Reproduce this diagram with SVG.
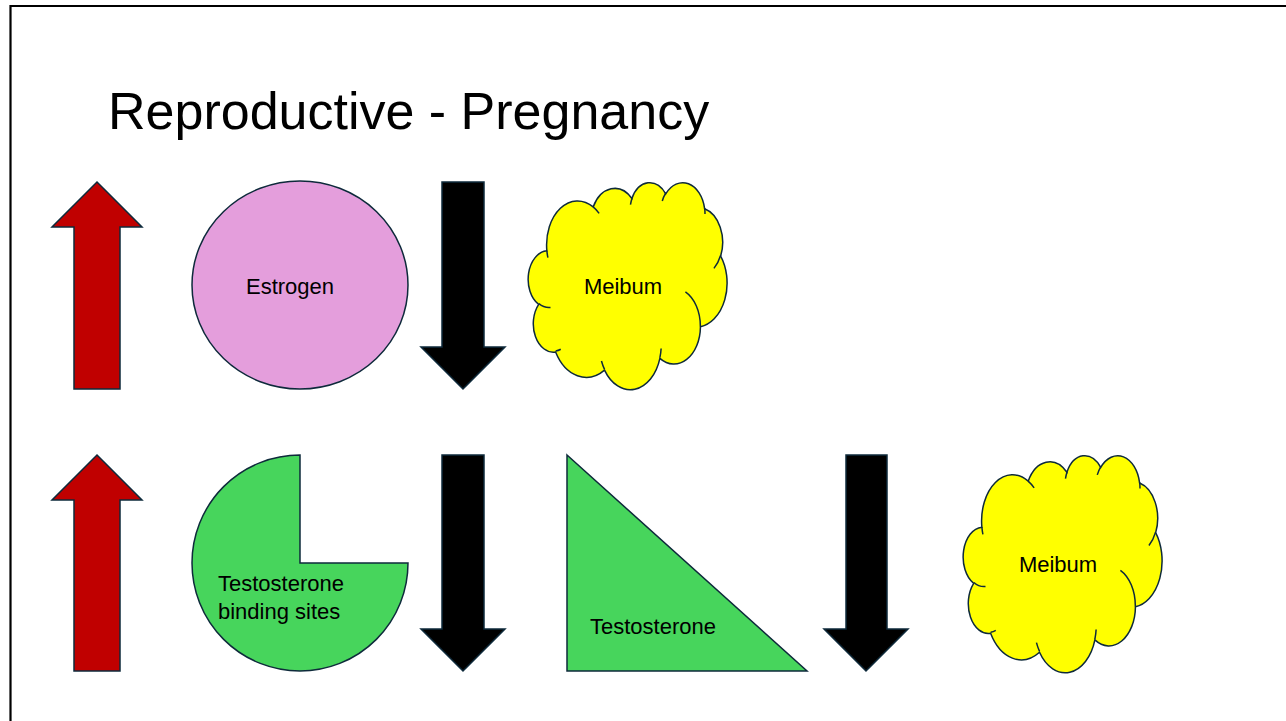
<svg xmlns="http://www.w3.org/2000/svg" xmlns:xlink="http://www.w3.org/1999/xlink" width="1286" height="721" viewBox="0 0 1286 721">
  <style>
    .outline { stroke: #0E2A3B; stroke-width: 1.5; stroke-linejoin: miter; }
    .up { fill: #C00000; }
    .down { fill: #000000; }
    .estrogen { fill: #E49EDC; }
    .green { fill: #47D55C; }
    .cloud { fill: #FFFF00; stroke: #0E2A3B; stroke-width: 1.5; vector-effect: non-scaling-stroke; }
    .cloud-inner { fill: none; stroke: #0E2A3B; stroke-width: 1.5; vector-effect: non-scaling-stroke; }
    .label { font-family: "Liberation Sans", Arial, sans-serif; font-size: 22px; fill: #000; }
    .title { font-family: "Liberation Sans", Arial, sans-serif; font-size: 52px; fill: #000; }
  </style>
  <defs>
    <!-- cloud outline in a 43200 x 43200 unit box -->
    <path id="cloud-body" class="cloud" d="M3900 14370 A6753 9190 0 0 1 14005 5202 A5333 7267 0 0 1 22456 3432 A4365 5945 0 0 1 29833 2480 A4857 6595 0 0 1 38318 5576 A5333 7273 0 0 1 41818 15459 A6775 9220 0 0 1 37404 30203 A5785 7867 0 0 1 28556 36813 A6752 9215 0 0 1 16480 39264 A7720 10543 0 0 1 5805 35470 A4360 5918 0 0 1 2113 25548 A4345 5945 0 0 1 3900 14370 Z"/>
    <!-- inner puff creases -->
    <path id="cloud-creases" class="cloud-inner" d="M4693 26177 A4345 5945 0 0 1 2160 25380 M6928 34899 A4360 5918 0 0 1 5820 35280 M16478 39090 A6752 9215 0 0 1 15810 37350 M28827 34751 A6752 9215 0 0 1 28560 36660 M34129 22954 A5785 7867 0 0 1 37380 30090 M41798 15354 A5333 7273 0 0 1 40350 18030 M38324 5426 A4857 6595 0 0 1 38400 6690 M29078 3952 A4857 6595 0 0 1 29820 2340 M22141 4720 A4365 5945 0 0 1 22500 3330 M14000 5192 A6753 9190 0 0 1 15300 6541 M4127 15789 A6753 9190 0 0 1 3900 14370"/>
  </defs>

  <rect width="1286" height="721" fill="#FFFFFF"/>
  <!-- slide frame -->
  <path d="M10.5 721 V6 H1286" fill="none" stroke="#000" stroke-width="2.2"/>

  <text class="title" x="108" y="129">Reproductive - Pregnancy</text>

  <!-- row 1 -->
  <g id="arrow-up-1">
    <polygon class="up outline" points="97,182 142,227 120,227 120,389 74,389 74,227 52,227"/>
  </g>
  <g id="estrogen">
    <ellipse class="estrogen outline" cx="300" cy="285" rx="108" ry="104"/>
    <text class="label" x="290" y="294" text-anchor="middle">Estrogen</text>
  </g>
  <g id="arrow-down-1">
    <polygon class="down outline" points="442,182 484,182 484,347 505,347 463,389 421,347 442,347"/>
  </g>
  <g id="meibum-1">
    <g transform="translate(529 182) scale(0.0045833 0.0047917)">
      <use xlink:href="#cloud-body"/>
      <use xlink:href="#cloud-creases"/>
    </g>
    <text class="label" x="623" y="294" text-anchor="middle">Meibum</text>
  </g>

  <!-- row 2 -->
  <g id="arrow-up-2">
    <polygon class="up outline" points="97,455 142,500 120,500 120,671 74,671 74,500 52,500"/>
  </g>
  <g id="testosterone-binding-sites">
    <path class="green outline" d="M300 563 V455 A108 108 0 1 0 408 563 Z"/>
    <text class="label" x="218" y="591">Testosterone</text>
    <text class="label" x="218" y="619">binding sites</text>
  </g>
  <g id="arrow-down-2">
    <polygon class="down outline" points="442,455 484,455 484,629 505,629 463,671 421,629 442,629"/>
  </g>
  <g id="testosterone">
    <polygon class="green outline" points="567,455 807,671 567,671"/>
    <text class="label" x="590" y="634">Testosterone</text>
  </g>
  <g id="arrow-down-3">
    <polygon class="down outline" points="846,455 887,455 887,629 908,629 866,671 824,629 846,629"/>
  </g>
  <g id="meibum-2">
    <g transform="translate(964 455) scale(0.0045833 0.0050231)">
      <use xlink:href="#cloud-body"/>
      <use xlink:href="#cloud-creases"/>
    </g>
    <text class="label" x="1058" y="572" text-anchor="middle">Meibum</text>
  </g>
</svg>
